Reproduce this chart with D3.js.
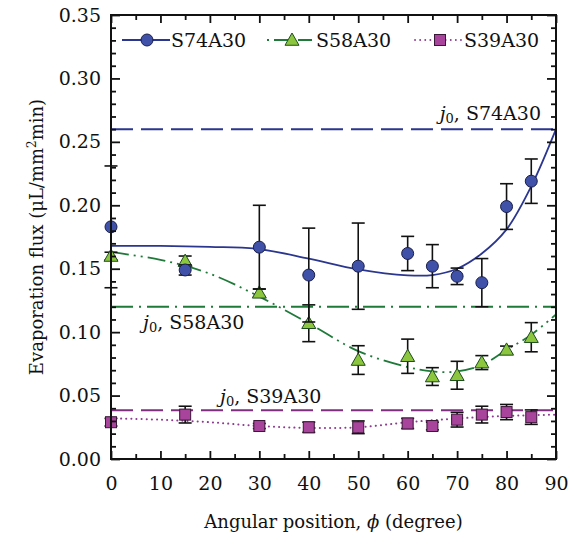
<!DOCTYPE html>
<html>
<head>
<meta charset="utf-8">
<script src="https://cdn.jsdelivr.net/npm/d3@7"></script>
<style>
  body { margin: 0; background: #fff; }
  svg { display: block; font-family: "DejaVu Serif", serif; }
</style>
</head>
<body>
<div id="chart"></div>
<script>
// measured points
const angles = [0, 15, 30, 40, 50, 60, 65, 70, 75, 80, 85];
const s74 = [0.183, 0.149, 0.167, 0.145, 0.152, 0.162, 0.152, 0.144, 0.139, 0.199, 0.219];
const s74Err = [0.048, 0.004, 0.033, 0.037, 0.034, 0.0135, 0.017, 0.0065, 0.019, 0.018, 0.0175];
const s58 = [0.160, 0.156, 0.131, 0.107, 0.078, 0.081, 0.065, 0.066, 0.076, 0.086, 0.096];
const s58Err = [0.003, 0.004, 0.003, 0.0145, 0.0113, 0.0135, 0.007, 0.011, 0.0055, 0.003, 0.0115];
const s39 = [0.029, 0.035, 0.026, 0.025, 0.025, 0.028, 0.026, 0.031, 0.035, 0.037, 0.033];
const s39Err = [0.003, 0.0066, 0.002, 0.004, 0.005, 0.004, 0.003, 0.0058, 0.0066, 0.006, 0.0057];

// fitted curves
const fitAngles = [0, 10, 20, 30, 40, 50, 60, 65, 70, 75, 80, 85, 90];
const s74Fit = [0.168, 0.168, 0.1672, 0.1655, 0.158, 0.1495, 0.1448, 0.145, 0.150, 0.162, 0.181, 0.215, 0.260];
const s58Fit = [0.163, 0.157, 0.146, 0.128, 0.107, 0.085, 0.0725, 0.069, 0.069, 0.074, 0.086, 0.098, 0.114];
const s39Fit = [0.032, 0.031, 0.029, 0.026, 0.0245, 0.025, 0.029, 0.0305, 0.032, 0.033, 0.034, 0.0345, 0.035];

// reference fluxes j0
const j0Values = [0.26, 0.12, 0.0385];
const seriesNames = ["S74A30", "S58A30", "S39A30"];

const xTicks = [0, 10, 20, 30, 40, 50, 60, 70, 80, 90];
const yTicks = [0, 0.05, 0.10, 0.15, 0.20, 0.25, 0.30, 0.35];

const width = 578, height = 537;
const margin = {top: 15, right: 22, bottom: 78, left: 111};

const svg = d3.select("#chart").append("svg")
    .attr("width", width).attr("height", height);

const x = d3.scaleLinear().domain([0, 90]).range([margin.left, width - margin.right]);
const y = d3.scaleLinear().domain([0, 0.35]).range([height - margin.bottom, margin.top]);

const styles = [
    {line: "#2b3690", fill: "#3f51a8", dash: null, j0dash: "22,8", j0color: "#2b3690", marker: "circle"},
    {line: "#1f7a3a", fill: "#8cc63f", dash: "18,5,2,5,2,5", j0dash: "22,6,2,6", j0color: "#1f7a3a", marker: "triangle"},
    {line: "#8e3a91", fill: "#a8449b", dash: "2,5", j0dash: "22,8", j0color: "#7e2f80", marker: "square"}
];

const means = [s74, s58, s39];
const errs = [s74Err, s58Err, s39Err];
const fits = [s74Fit, s58Fit, s39Fit];

// j0 reference lines
j0Values.forEach((v, i) => {
    svg.append("line")
        .attr("x1", x(0)).attr("x2", x(90))
        .attr("y1", y(v)).attr("y2", y(v))
        .attr("stroke", styles[i].j0color).attr("stroke-width", 2)
        .attr("stroke-dasharray", styles[i].j0dash);
});

// fit curves
const line = d3.line().x(d => x(d[0])).y(d => y(d[1])).curve(d3.curveCatmullRom.alpha(0.5));
fits.forEach((f, i) => {
    svg.append("path")
        .datum(fitAngles.map((a, k) => [a, f[k]]))
        .attr("d", line)
        .attr("fill", "none")
        .attr("stroke", styles[i].line)
        .attr("stroke-width", i === 2 ? 2 : 1.8)
        .attr("stroke-linecap", i === 2 ? "round" : "butt")
        .attr("stroke-dasharray", i === 2 ? "0.1,5" : styles[i].dash);
});

function drawMarker(g, type, cx, cy, fill) {
    if (type === "circle") {
        g.append("circle").attr("cx", cx).attr("cy", cy).attr("r", 6)
            .attr("fill", fill).attr("stroke", "#1a1f4a").attr("stroke-width", 1);
    } else if (type === "triangle") {
        const s = 7;
        g.append("path")
            .attr("d", `M${cx},${cy - s}L${cx + s},${cy + s * 0.75}L${cx - s},${cy + s * 0.75}Z`)
            .attr("fill", fill).attr("stroke", "#1d4d1d").attr("stroke-width", 1);
    } else {
        g.append("rect").attr("x", cx - 5.5).attr("y", cy - 5.5).attr("width", 11).attr("height", 11)
            .attr("fill", fill).attr("stroke", "#3a1638").attr("stroke-width", 1);
    }
}

// error bars and markers
const cap = 6.5;
[2, 1, 0].forEach(i => {
    const g = svg.append("g");
    angles.forEach((a, k) => {
        const lo = y(means[i][k] - errs[i][k]), hi = y(means[i][k] + errs[i][k]);
        g.append("line").attr("x1", x(a)).attr("x2", x(a)).attr("y1", lo).attr("y2", hi)
            .attr("stroke", "#111").attr("stroke-width", 1.6);
        [lo, hi].forEach(v => g.append("line")
            .attr("x1", x(a) - cap).attr("x2", x(a) + cap).attr("y1", v).attr("y2", v)
            .attr("stroke", "#111").attr("stroke-width", 1.6));
    });
    angles.forEach((a, k) => drawMarker(g, styles[i].marker, x(a), y(means[i][k]), styles[i].fill));
});

// axes, ticks inward on all four sides
const xMinor = d3.range(5, 90, 10);
const yMinor = d3.range(0, 0.351, 0.01).filter(v => Math.abs(v * 20 - Math.round(v * 20)) > 1e-6);
const axes = svg.append("g").attr("font-family", "DejaVu Serif");

function addAxis(axisFn, scale, ticks, size, transform, labels, fmt) {
    const a = axisFn(scale).tickValues(ticks).tickSize(size).tickPadding(12);
    if (!labels) a.tickFormat("");
    else if (fmt) a.tickFormat(fmt);
    const g = axes.append("g").attr("transform", transform).call(a);
    g.select(".domain").remove();
    g.selectAll("line").attr("stroke", "#111").attr("stroke-width", 1.8);
    g.selectAll("text").attr("font-size", 19).attr("font-family", "DejaVu Serif").attr("fill", "#111");
    return g;
}
const bottomY = height - margin.bottom, leftX = margin.left, rightX = width - margin.right;
addAxis(d3.axisBottom, x, xTicks, -8, `translate(0,${bottomY})`, true).selectAll("text").attr("dy", "1.0em");
addAxis(d3.axisBottom, x, xMinor, -5, `translate(0,${bottomY})`, false);
addAxis(d3.axisTop, x, xTicks, -8, `translate(0,${margin.top})`, false);
addAxis(d3.axisTop, x, xMinor, -5, `translate(0,${margin.top})`, false);
addAxis(d3.axisLeft, y, yTicks, -9, `translate(${leftX},0)`, true, d3.format(".2f"))
    .selectAll("text").attr("x", -10);
addAxis(d3.axisLeft, y, yMinor, -5, `translate(${leftX},0)`, false);
addAxis(d3.axisRight, y, yTicks, -9, `translate(${rightX},0)`, false);
addAxis(d3.axisRight, y, yMinor, -5, `translate(${rightX},0)`, false);

svg.append("rect")
    .attr("x", leftX).attr("y", margin.top)
    .attr("width", rightX - leftX).attr("height", bottomY - margin.top)
    .attr("fill", "none").attr("stroke", "#111").attr("stroke-width", 2);

// j0 labels
function j0Label(name, tx, ty, anchor) {
    const t = svg.append("text").attr("x", tx).attr("y", ty)
        .attr("font-size", 19).attr("fill", "#111").attr("text-anchor", anchor);
    t.append("tspan").attr("font-style", "italic").text("j");
    t.append("tspan").attr("font-size", 13).attr("dy", 3).text("0");
    t.append("tspan").attr("dy", -3).text(", " + name);
}
j0Label(seriesNames[0], 541, 120, "end");
j0Label(seriesNames[1], 143, 329, "start");
j0Label(seriesNames[2], 220, 403, "start");

// legend
const legendX = [122, 267, 415];
const legendY = 40;
seriesNames.forEach((name, i) => {
    const g = svg.append("g");
    g.append("line").attr("x1", legendX[i]).attr("x2", legendX[i] + 48)
        .attr("y1", legendY).attr("y2", legendY)
        .attr("stroke", styles[i].line).attr("stroke-width", 1.8)
        .attr("stroke-linecap", i === 2 ? "round" : "butt")
        .attr("stroke-dasharray", i === 2 ? "0.1,5" : (i === 1 ? "2,5,14,10,14,5" : null));
    drawMarker(g, styles[i].marker, legendX[i] + 25, legendY, styles[i].fill);
    g.append("text").attr("x", legendX[i] + 49).attr("y", legendY + 7)
        .attr("font-size", 19).attr("fill", "#111").text(name);
});

// axis titles
const xt = svg.append("text")
    .attr("x", (leftX + rightX) / 2).attr("y", 528)
    .attr("text-anchor", "middle").attr("font-size", 18).attr("fill", "#111");
xt.append("tspan").text("Angular position, ");
xt.append("tspan").attr("font-style", "italic").text("ϕ");
xt.append("tspan").text(" (degree)");

const yt = svg.append("text")
    .attr("transform", `translate(43,${(margin.top + bottomY) / 2}) rotate(-90)`)
    .attr("text-anchor", "middle").attr("font-size", 18).attr("fill", "#111");
yt.append("tspan").text("Evaporation flux (μL/mm");
yt.append("tspan").attr("font-size", 12).attr("dy", -7).text("2");
yt.append("tspan").attr("dy", 7).text("min)");
</script>
</body>
</html>
